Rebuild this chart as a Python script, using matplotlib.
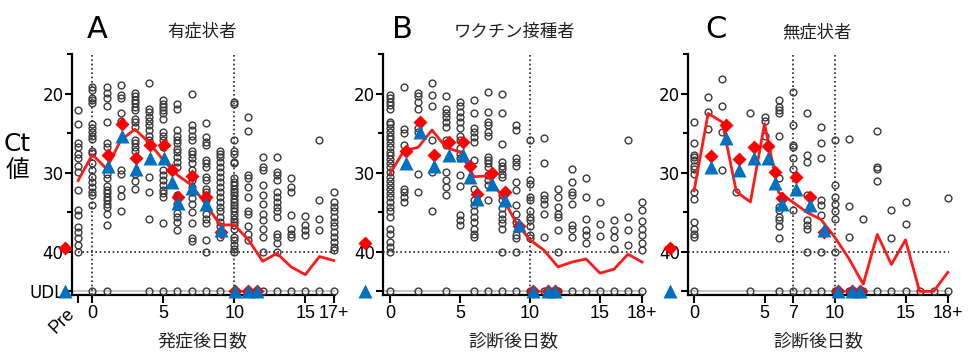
import matplotlib.pyplot as plt
from matplotlib.ticker import FixedLocator

plt.rcParams['font.family'] = ['DejaVu Sans', 'Noto Sans CJK JP']

UDL = 45  # undetectable level plotted at the bottom row

# ---------------- panel A: symptomatic ----------------
a_days = list(range(-1, 18))
a_ct = [
    [22.1, 23.9, 26.3, 26.8, 27.6, 28.2, 29.2, 29.9, 32.2, 34.7, 35.4, 36.9, 37.5, 38.2, 39.2, 40.0],
    [19.1, 19.6, 20.5, 20.8, 21.2, 23.8, 24.4, 24.8, 25.3, 25.7, 27.2, 27.5, 28.8, 29.7, 30.5, 31.2, 31.8, 32.4, 32.8, 34.1, UDL],
    [19.2, 19.9, 20.5, 21.6, 23.6, 26.3, 26.7, 30.1, 30.7, 31.7, 32.2, 32.6, 33.1, 33.5, 33.9, 34.3, 35.2, 36.6, UDL],
    [18.9, 20.2, 20.6, 22.5, 23.4, 29.7, 30.1, 32.0, 33.0, 34.8],
    [19.9, 20.3, 20.8, 21.2, 21.7, 22.1, 23.2, 23.6, 24.2, 25.9, 26.3, 26.7, 27.2, 30.1, 31.1, 32.0],
    [18.7, 21.9, 22.3, 22.9, 23.4, 24.0, 24.6, 25.3, 25.9, 30.5, 32.5, 35.9, UDL],
    [20.8, 21.3, 21.7, 22.1, 22.5, 23.2, 24.8, 25.4, 25.9, 26.7, 29.7, 30.3, 30.9, 31.6, 32.2, 32.6, 33.1, 36.4, UDL],
    [21.3, 21.9, 24.6, 25.3, 25.9, 26.3, 27.0, 27.4, 28.0, 28.6, 29.3, 32.8, 33.9, 35.1, 35.6, 36.2, 37.2, UDL],
    [20.0, 24.0, 24.6, 25.3, 25.9, 27.2, 27.6, 28.2, 28.8, 29.7, 30.3, 30.9, 31.8, 32.5, 33.2, 33.9, 35.0, 36.3, 38.2, 38.6, UDL],
    [23.7, 25.5, 26.1, 26.5, 28.4, 28.8, 29.3, 30.5, 30.9, 32.0, 32.4, 33.5, 34.3, 35.2, 35.8, 36.4, 38.5, 40.0, UDL],
    [27.2, 27.6, 28.0, 28.6, 29.3, 29.9, 30.5, 31.2, 31.8, 32.4, 33.1, 33.7, 34.3, 34.9, 35.6, 36.2, 36.8, 38.1, UDL],
    [21.1, 21.3, 25.8, 27.2, 27.6, 28.6, 28.8, 30.7, 31.2, 31.6, 32.0, 32.4, 32.8, 33.3, 33.7, 34.1, 34.5, 34.9,
     35.4, 35.8, 36.2, 36.6, 37.1, 38.1, 38.5, 39.2, 39.6, 40.0, UDL],
    [23.0, 24.7, 30.3, 30.7, 31.8, 33.1, 34.9, 35.2, 36.8, 37.7, 38.5, UDL],
    [28.0, 29.3, 29.7, 31.6, 32.8, 33.9, 35.2, 36.0, 37.1, 38.1, 40.0, UDL],
    [28.0, 29.9, 30.3, 30.9, 32.4, 33.1, 33.7, 34.3, 34.9, 35.6, 37.7, 38.1, 38.9, 40.0, UDL],
    [30.7, 31.8, 32.4, 35.4, 37.1, 37.7, 38.1, UDL],
    [35.5, 36.6, 37.3, 37.9, UDL],
    [25.8, 33.4, 35.9, 37.2, UDL],
    [32.5, 33.7, 34.3, 34.9, 35.6, 36.2, 36.8, 37.5, 38.1, 38.7, 39.4, 39.8, UDL],
]
a_median = [31.0, 27.7, 29.5, 25.9, 24.5, 26.2, 28.4, 30.3, 31.6, 34.0, 36.6, 36.6,
            38.5, 41.2, 40.2, 41.9, 42.9, 40.6, 41.1]
a_pair_x = [1.1, 2.1, 3.1, 4.05, 5.05, 5.6, 6.05, 7.05, 8.0, 9.05, 10.05, 11.0, 11.6]
a_red = [27.8, 23.9, 28.1, 26.5, 26.5, 29.7, 33.1, 30.4, 33.1, 37.5, UDL, UDL, UDL]
a_blue = [29.2, 25.3, 29.5, 28.1, 28.1, 31.2, 33.8, 31.9, 34.0, 37.2, UDL, UDL, UDL]
a_pre = (-1.92, 39.5)

# ---------------- panel B: vaccinated ----------------
b_days = list(range(0, 19))
b_ct = [
    [20.2, 20.6, 21.1, 21.5, 22.0, 23.6, 23.9, 24.4, 24.8, 25.3, 25.7, 26.3, 26.8, 27.4, 27.8, 28.3, 28.8, 29.3,
     29.9, 30.5, 31.0, 31.6, 32.1, 32.6, 33.1, 33.7, 34.3, 34.9, 35.6, 37.1, 37.7, 38.7, 39.4, 40.0, UDL],
    [19.1, 24.5, 25.0, 26.5, 32.0, 32.5, 33.1, 33.7],
    [19.9, 20.3, 21.1, 21.9, 24.4, 24.8, 30.1, 32.5, UDL],
    [18.7, 20.2, 21.6, 25.9, 29.9, 34.8],
    [20.3, 22.0, 22.5, 22.9, 23.6, 24.2, 25.9, 26.5, 29.9, 30.9, 31.8, 32.8, UDL],
    [21.1, 21.6, 22.3, 22.9, 23.6, 24.4, 25.3, 25.9, 26.9, 27.6, 28.2, 30.3, 31.7, 35.4, 36.0, 36.6],
    [20.8, 22.5, 24.4, 24.8, 25.5, 26.1, 28.4, 32.0, 33.5, 34.1, 34.9, 35.6, 36.2, 37.1, 37.7, 38.1, UDL],
    [19.8, 22.3, 23.6, 24.0, 24.8, 25.4, 28.0, 28.4, 28.8, 29.3, 30.3, 30.9, 31.6, 33.5, UDL],
    [20.0, 22.4, 26.4, 28.6, 29.1, 29.5, 30.1, 30.6, 32.8, 33.5, 34.5, 35.2, 35.8, 36.4, 37.1, 40.0, UDL],
    [24.0, 24.6, 28.2, 28.6, 29.1, 31.2, 32.2, 34.1, 35.2, 36.2, 37.9, 38.3, 40.0, UDL],
    [25.8, 30.9, 31.4, 33.1, 33.5, 34.9, 35.6, 36.0, 36.8, 37.9, 38.3, UDL],
    [25.6, 28.8, 32.8, 33.3, 33.9, 35.2, 38.1, UDL],
    [32.1, 33.1, 34.3, 35.2, 35.6, 37.3, 40.0, UDL],
    [29.5, 31.2, 32.4, 32.8, 33.9, 36.6, 37.1, 38.1, UDL],
    [30.7, 33.1, 35.8, 37.3, 37.9, 38.9, UDL],
    [33.7, 36.5, 38.0, UDL],
    [36.0, 37.2, 38.1, 39.6, UDL],
    [25.8, 35.6, 37.2, 39.1, UDL],
    [33.7, 34.7, 36.1, 37.1, 37.9, 38.9, 39.8, UDL],
]
b_median = [30.1, 27.2, 26.8, 24.6, 26.8, 27.4, 30.5, 30.4, 33.0, 36.3, 38.5, 39.8,
            41.9, 41.3, 40.9, 42.7, 42.2, 40.3, 41.3]
b_pair_x = [1.12, 2.14, 3.14, 4.24, 5.24, 5.7, 6.2, 7.3, 8.2, 9.2, 10.2, 11.3, 11.8]
b_red = [27.2, 23.6, 27.7, 26.1, 26.1, 29.2, 32.7, 30.0, 32.5, 36.8, UDL, UDL, UDL]
b_blue = [28.8, 24.8, 29.2, 27.7, 27.7, 30.6, 33.3, 31.4, 33.5, 36.6, UDL, UDL, UDL]
b_pre = (-1.8, 38.9)

# ---------------- panel C: asymptomatic ----------------
c_days = list(range(0, 19))
c_ct = [
    [23.6, 26.2, 27.7, 28.0, 28.4, 29.1, 29.5, 30.1, 32.4, 33.3, 36.2, 37.1, 37.7, 38.1, UDL],
    [20.4, 22.3, 24.5],
    [18.2, 21.6, 24.8, 29.7],
    [32.5],
    [22.5, UDL],
    [23.0, 23.5, 25.3],
    [20.8, 21.7, 22.1, 22.5, 25.3, 30.7, 34.3, 34.7, 35.6, 36.0, 36.8, 38.3, UDL],
    [19.8, 24.0, 26.5, 26.8, 28.2, 29.5, 34.7, UDL],
    [22.5, 27.8, 28.6, 32.8, 36.0, 36.6, 37.1, 40.0, UDL],
    [24.2, 26.3, 28.2, 33.5, 34.1, 35.4, 40.0, UDL],
    [25.8, 31.6, 33.1, 34.0, 34.9, 35.9, 40.0, UDL],
    [25.7, 34.2, 38.1, UDL],
    [35.8, UDL],
    [24.7, 29.3, 29.5, 31.0, UDL],
    [34.7, 38.2, UDL],
    [33.7, 36.5, UDL],
    [UDL],
    [UDL],
    [33.2, UDL],
]
c_median = [32.3, 22.5, 23.6, 32.4, 33.7, 23.8, 32.5, 33.7, 35.0, 35.9, 38.2, 40.9,
            44.1, 37.8, 41.6, 38.5, 45.0, 45.0, 42.6]
c_pair_x = [1.18, 2.24, 3.2, 4.26, 5.25, 5.73, 6.27, 7.26, 8.2, 9.22, 10.2, 11.2, 11.8]
c_red = [27.9, 24.0, 28.3, 26.7, 26.6, 29.9, 33.2, 30.5, 33.1, 37.5, UDL, UDL, UDL]
c_blue = [29.3, 25.6, 29.6, 28.2, 28.2, 31.3, 33.9, 32.0, 34.1, 37.3, UDL, UDL, UDL]
c_pre = (-1.7, 39.5)

W, H = 968, 362
fig = plt.figure(figsize=(W / 100, H / 100), dpi=100)


def px_rect(left, right):
    bottom, top = 294.5, 53.7
    return [left / W, (H - bottom) / H, (right - left) / W, (bottom - top) / H]


def draw_panel(ax, days, ct, median, pair_x, red, blue, pre, xlim, xticks, xlabels,
               vlines, h_start, ylabels):
    ax.set_xlim(*xlim)
    ax.set_ylim(45.4, 14.95)
    # light line at UDL level
    ax.axhline(UDL, color='#c8c8c8', lw=1.5, zorder=1)
    for v in vlines:
        ax.axvline(v, color='#222', ls=(0, (1, 1.6)), lw=1.2, zorder=1)
    ax.hlines(40, h_start, xlim[1], color='#222', ls=(0, (1, 1.6)), lw=1.2, zorder=1)

    for d, vals in zip(days, ct):
        ax.plot([d] * len(vals), vals, 'o', ms=4.9, mfc='none', mec='#3a3a3a', mew=1.0,
                clip_on=False, zorder=3)
    ax.plot(days, median, color='#ff1a1a', lw=2.0, zorder=4, clip_on=False)
    ax.plot(pair_x + [pre[0]], red + [pre[1]], 'D', ms=7.4, color='#ff0000', mec='none',
            clip_on=False, zorder=5)
    ax.plot(pair_x + [pre[0]], blue + [UDL], '^', ms=10.2, color='#0070c0', mec='none',
            clip_on=False, zorder=6)

    for s in ['top', 'right']:
        ax.spines[s].set_visible(False)
    for s in ['left', 'bottom']:
        ax.spines[s].set_linewidth(1.6)

    ax.yaxis.set_major_locator(FixedLocator([20, 30, 40, 45]))
    ax.yaxis.set_minor_locator(FixedLocator([15, 25, 35]))
    ax.set_yticklabels(ylabels, fontsize=12)
    ax.tick_params(axis='y', which='major', length=5, width=1.5, pad=1)
    ax.tick_params(axis='y', which='minor', length=3.5, width=1.5)

    ax.set_xticks(xticks)
    ax.set_xticklabels(xlabels, fontsize=13, family='Liberation Sans')
    ax.tick_params(axis='x', length=5.5, width=1.5, pad=2)


ax_a = fig.add_axes(px_rect(72.0, 335.1))
draw_panel(ax_a, a_days, a_ct, a_median, a_pair_x, a_red, a_blue, a_pre,
           (-1.43, 17.1), [-1, 0, 5, 10, 15, 17], ['Pre', '0', '5', '10', '15', '17+'],
           [0, 10], -1, ['20', '30', '40', 'UDL'])
pre_lbl = ax_a.get_xticklabels()[0]
pre_lbl.set_rotation(45)
pre_lbl.set_ha('right')
pre_lbl.set_va('top')

ax_b = fig.add_axes(px_rect(383.3, 642.7))
draw_panel(ax_b, b_days, b_ct, b_median, b_pair_x, b_red, b_blue, b_pre,
           (-0.48, 18.05), [0, 5, 10, 15, 18], ['0', '5', '10', '15', '18+'],
           [10], -0.48, ['20', '30', '40', ''])

ax_c = fig.add_axes(px_rect(688.4, 948.5))
draw_panel(ax_c, c_days, c_ct, c_median, c_pair_x, c_red, c_blue, c_pre,
           (-0.4, 18.05), [0, 5, 7, 10, 15, 18], ['0', '5', '7', '10', '15', '18+'],
           [7, 10], -0.4, ['20', '30', '40', ''])


def ftext(x, y, s, **kw):
    fig.text(x / W, 1 - y / H, s, ha='center', va='center', **kw)


cjk = ['Noto Sans CJK JP', 'DejaVu Sans']
for letter, lx, title, tx in [('A', 97, '有症状者', 202), ('B', 402, 'ワクチン接種者', 514),
                              ('C', 716, '無症状者', 817)]:
    ftext(lx, 29, letter, fontsize=22)
    ftext(tx, 32, title, fontsize=12.5, family=cjk, color='#222')

ftext(202, 341, '発症後日数', fontsize=13, family=cjk, color='#222')
ftext(513, 341, '診断後日数', fontsize=13, family=cjk, color='#222')
ftext(818, 341, '診断後日数', fontsize=13, family=cjk, color='#222')

ftext(17, 144, 'Ct', fontsize=18)
ftext(17, 171, '値', fontsize=17, family=cjk)

fig.savefig('out.png', dpi=100)
